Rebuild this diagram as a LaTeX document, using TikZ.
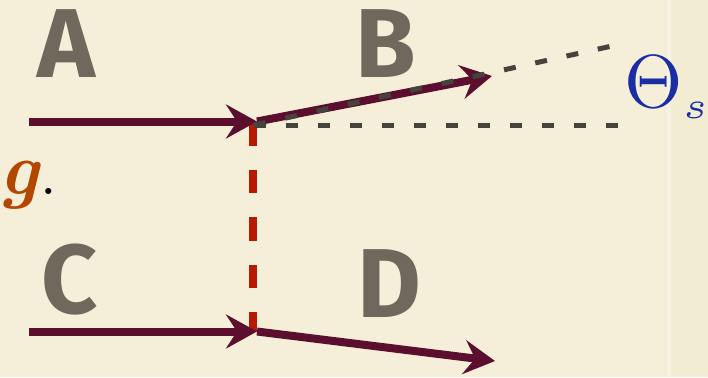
\documentclass[tikz,border=0pt]{standalone}
\usepackage[no-math]{fontspec}
\usepackage{tikz}
\usetikzlibrary{arrows.meta}
\newfontfamily\letterfont{Fira Sans}
\definecolor{paper}{HTML}{F5EFD9}
\definecolor{paperedge}{HTML}{F2ECD2}
\definecolor{stripe}{HTML}{F7F3E2}
\definecolor{pencil}{HTML}{6F695D}
\definecolor{wine}{HTML}{5B0E2D}
\definecolor{brick}{HTML}{B51A00}
\definecolor{slate}{HTML}{45443C}
\definecolor{ink}{HTML}{1A2DA5}
\definecolor{rust}{HTML}{B34700}
\tikzset{
  beam/.style={draw=wine, line width=8pt,
               -{Stealth[length=31pt,width=34pt,inset=11pt]}},
  guide/.style={draw=slate, line width=5pt, dash pattern=on 12pt off 20pt},
  wall/.style={draw=brick, line width=7.5pt, dash pattern=on 23.5pt off 24pt},
  letter/.style={text=pencil, inner sep=0pt,
                 font=\letterfont\bfseries\fontsize{98}{100}\selectfont}
}

\begin{document}
\begin{tikzpicture}[x=1pt,y=-1pt]
  % paper
  \useasboundingbox (0,0) rectangle (708,377);
  \fill[paper] (0,0) rectangle (708,377);
  \fill[paperedge] (671,0) rectangle (708,377);
  \fill[stripe] (667,0) rectangle (671,377);

  % end points of the rays
  \coordinate (a0) at (29,121.5);
  \coordinate (v1) at (257,121.5);
  \coordinate (o1) at (254,125);
  \coordinate (b1) at (492,76);
  \coordinate (t1) at (612,46);
  \coordinate (h1) at (621,125);
  \coordinate (w0) at (253,122);
  \coordinate (w1) at (253,331.5);
  \coordinate (c0) at (29,331.5);
  \coordinate (v2) at (257,331.5);
  \coordinate (d1) at (495,361);

  \node[letter] (A) at (66.5,44) {A};
  \node[letter] (B) at (386,43.5) {B};
  \node[letter] (C) at (70,280) {C};
  \node[letter] (D) at (389,283.5) {D};

  \node[text=ink, inner sep=0pt, anchor=base west] (th) at (624,107)
        {\scalebox{7.5}{$\Theta_{\scriptscriptstyle s}$}};
  \node[inner sep=0pt, anchor=base east,
        font=\fontsize{74}{80}\selectfont] (tail) at (58,194)
        {\textcolor{rust}{\bfseries\itshape g}.};

  \draw[wall] (w0) -- (w1);
  \draw[beam] (a0) -- (v1);
  \draw[beam] (v1) -- (b1);
  \draw[beam] (c0) -- (v2);
  \draw[beam] (v2) -- (d1);
  \draw[guide] (o1) -- (h1);
  \draw[guide] (o1) -- (t1);
\end{tikzpicture}
\end{document}
